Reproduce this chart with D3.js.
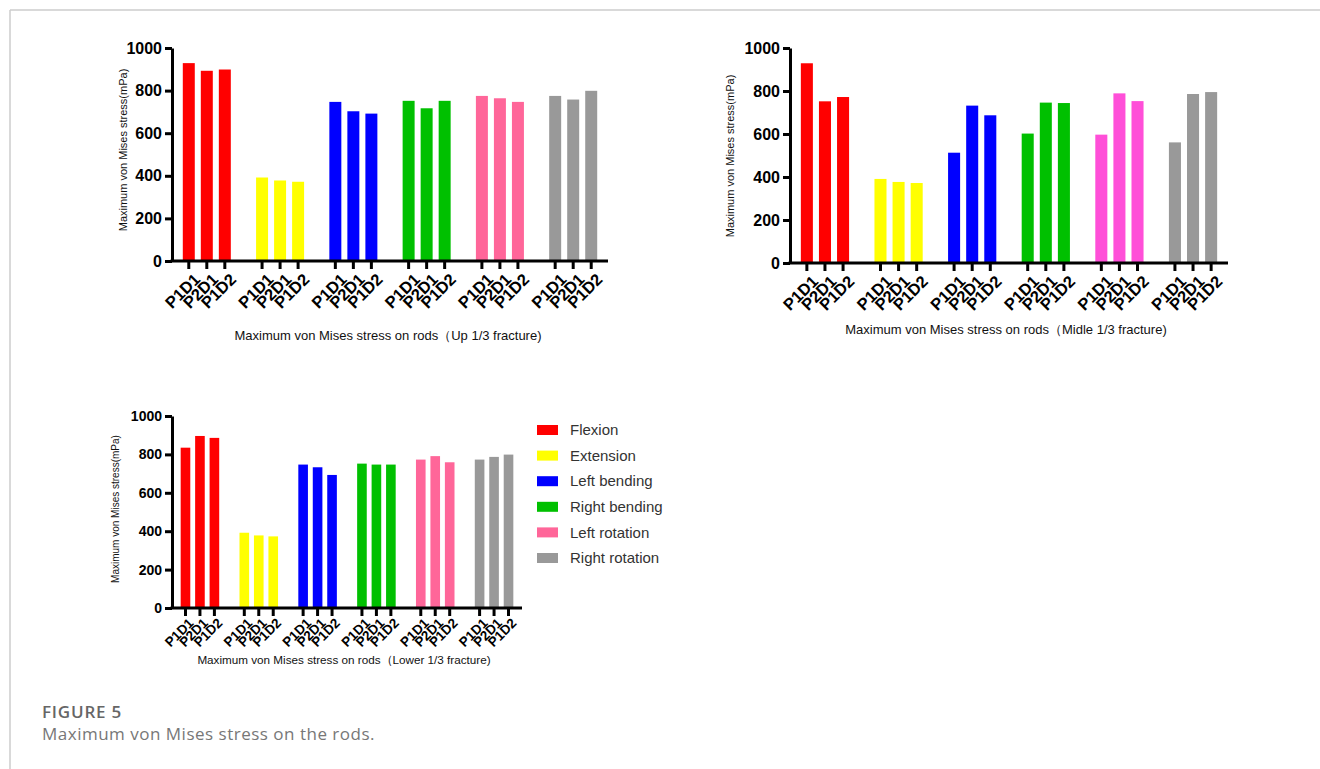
<!DOCTYPE html>
<html>
<head>
<meta charset="utf-8">
<script src="https://cdn.jsdelivr.net/npm/d3@7"></script>
<style>
  body { margin: 0; background: #fff; }
  svg { display: block; }
  .axis path, .axis line { stroke: #000; stroke-width: 3; }
  .axis text { font-family: "Liberation Sans", Arial, sans-serif; font-weight: bold; fill: #000; }
  .title { font-family: "Liberation Sans", Arial, sans-serif; fill: #111; }
</style>
</head>
<body>
<div id="chart"></div>
<script>
// movements (legend order) and rod configurations
const groups = ['Flexion', 'Extension', 'Left bending', 'Right bending', 'Left rotation', 'Right rotation'];
const rodLabels = ['P1D1', 'P2D1', 'P1D2'];
const yTicks = [0, 200, 400, 600, 800, 1000];

// max von Mises stress per movement x rod config
const upValues = [[929, 893, 899], [392, 378, 372], [747, 703, 692], [752, 717, 752], [775, 764, 747], [775, 758, 799]];
const midValues = [[929, 752, 772], [391, 377, 372], [513, 732, 687], [602, 746, 744], [597, 789, 753], [561, 786, 795]];
const lowValues = [[835, 896, 886], [392, 378, 373], [747, 733, 693], [752, 747, 747], [773, 791, 759], [773, 787, 799]];

const colorsA = ['#ff0000', '#ffff00', '#0000ff', '#00c000', '#ff6699', '#999999'];
const colorsB = ['#ff0000', '#ffff00', '#0000ff', '#00c000', '#ff4fd8', '#999999'];

const W = 1320, H = 769;
const svg = d3.select('#chart').append('svg').attr('width', W).attr('height', H);

// page frame
svg.append('line').attr('x1', 10).attr('x2', W).attr('y1', 10).attr('y2', 10)
  .attr('stroke', '#ccc').attr('stroke-width', 1.5);
svg.append('line').attr('x1', 10).attr('x2', 10).attr('y1', 10).attr('y2', H)
  .attr('stroke', '#ccc').attr('stroke-width', 1.5);

function drawChart(opt) {
  const {values, colors, x0r, y0, y1, tickFont, labelFont, labelDx, labelDy, yTitle, xTitle} = opt;
  const g = svg.append('g');
  const x0 = d3.scaleBand().domain(groups).range(x0r).paddingInner(0.18).paddingOuter(0.065);
  const x1 = d3.scaleBand().domain(rodLabels).range([0, x0.bandwidth()]).padding(0.335);
  const y = d3.scaleLinear().domain([0, 1000]).range([y0, y1]);

  groups.forEach((grp, gi) => {
    g.selectAll(null)
      .data(values[gi])
      .enter()
      .append('rect')
      .attr('x', (d, i) => x0(grp) + x1(rodLabels[i]))
      .attr('y', d => y(d))
      .attr('width', x1.bandwidth())
      .attr('height', d => y(0) - y(d))
      .attr('fill', colors[gi]);
  });

  // x axis: a line plus one tick per bar
  const centers = [];
  groups.forEach(grp => rodLabels.forEach(r => centers.push({x: x0(grp) + x1(r) + x1.bandwidth() / 2, label: r})));
  g.append('line')
    .attr('x1', x0r[0] - 1.5).attr('x2', x0r[1])
    .attr('y1', y(0)).attr('y2', y(0))
    .attr('stroke', '#000').attr('stroke-width', 3);
  const tk = g.selectAll('.xt').data(centers).enter().append('g')
    .attr('class', 'xt')
    .attr('transform', d => `translate(${d.x},${y(0)})`);
  tk.append('line').attr('y1', 0).attr('y2', 8).attr('stroke', '#000').attr('stroke-width', 3);
  tk.append('text')
    .attr('transform', `translate(${labelDx},${labelDy}) rotate(-45)`)
    .attr('text-anchor', 'end')
    .attr('dy', '0.72em')
    .style('font-family', '"Liberation Sans", Arial, sans-serif')
    .style('font-weight', 'bold')
    .style('font-size', labelFont + 'px')
    .text(d => d.label);

  // y axis
  g.append('g')
    .attr('class', 'axis')
    .attr('transform', `translate(${x0r[0]},0)`)
    .call(d3.axisLeft(y).tickValues(yTicks).tickFormat(d3.format('d')).tickSize(7).tickSizeOuter(0).tickPadding(3))
    .call(a => a.selectAll('text').style('font-size', tickFont + 'px'));

  g.append('text')
    .attr('class', 'title')
    .attr('transform', `translate(${yTitle.x},${yTitle.y}) rotate(-90)`)
    .attr('text-anchor', 'middle')
    .style('font-size', yTitle.size + 'px')
    .text('Maximum von Mises stress(mPa)');
  g.append('text')
    .attr('class', 'title')
    .attr('x', xTitle.x).attr('y', xTitle.y)
    .attr('text-anchor', 'middle')
    .style('font-size', xTitle.size + 'px')
    .text(xTitle.text);
}

drawChart({
  values: upValues, colors: colorsA, x0r: [172, 608], y0: 261, y1: 48,
  tickFont: 16, labelFont: 16.5, labelDx: 4, labelDy: 11,
  yTitle: {x: 127, y: 150, size: 11},
  xTitle: {x: 388, y: 340, size: 13, text: 'Maximum von Mises stress on rods（Up 1/3 fracture)'}
});
drawChart({
  values: midValues, colors: colorsB, x0r: [790, 1228], y0: 263, y1: 48,
  tickFont: 16, labelFont: 16.5, labelDx: 4, labelDy: 11,
  yTitle: {x: 734, y: 156, size: 11},
  xTitle: {x: 1006, y: 334, size: 13, text: 'Maximum von Mises stress on rods（Midle 1/3 fracture)'}
});
drawChart({
  values: lowValues, colors: colorsA, x0r: [172, 522], y0: 608, y1: 416,
  tickFont: 14, labelFont: 13.5, labelDx: 2, labelDy: 9,
  yTitle: {x: 119, y: 509, size: 10},
  xTitle: {x: 344, y: 664, size: 11.7, text: 'Maximum von Mises stress on rods（Lower 1/3 fracture)'}
});

// legend
const legend = svg.append('g').attr('transform', 'translate(537,430)');
const li = legend.selectAll('g').data(groups).enter().append('g')
  .attr('transform', (d, i) => `translate(0,${i * 25.6})`);
li.append('rect').attr('x', 0).attr('y', -5).attr('width', 21).attr('height', 10)
  .attr('fill', (d, i) => colorsA[i]);
li.append('text').attr('x', 33).attr('dy', '0.35em')
  .style('font-family', '"Liberation Sans", Arial, sans-serif')
  .style('font-size', '15px').attr('fill', '#333')
  .text(d => d);

// caption
svg.append('text').attr('x', 42).attr('y', 718)
  .style('font-family', '"Open Sans", sans-serif').style('font-weight', 600)
  .style('font-size', '17px').style('letter-spacing', '0.8px').attr('fill', '#666')
  .text('FIGURE 5');
svg.append('text').attr('x', 42).attr('y', 740)
  .style('font-family', '"Open Sans", sans-serif')
  .style('font-size', '17px').style('letter-spacing', '0.5px').attr('fill', '#777')
  .text('Maximum von Mises stress on the rods.');
</script>
</body>
</html>
